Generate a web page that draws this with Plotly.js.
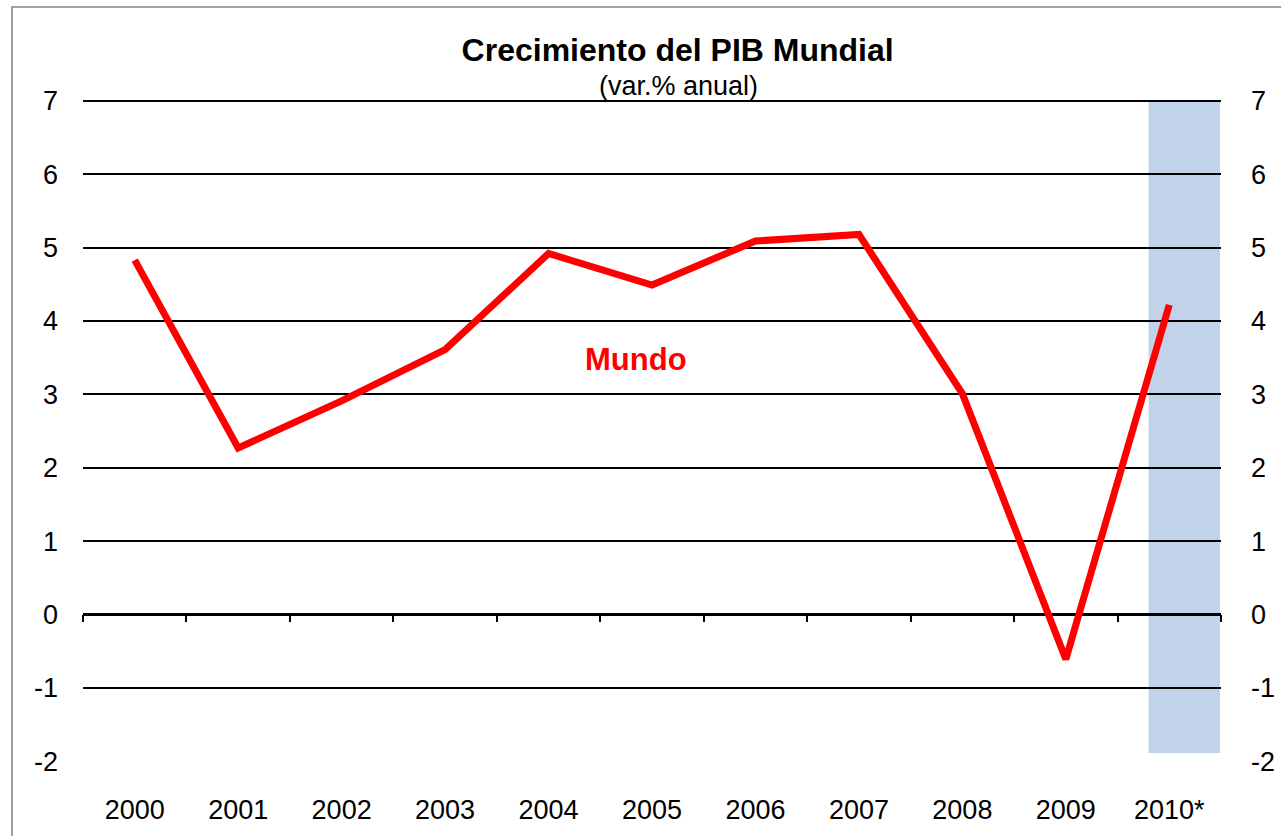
<!DOCTYPE html>
<html>
<head>
<meta charset="utf-8">
<script src="https://cdn.plot.ly/plotly-3.0.1.min.js"></script>
<style>
html,body{margin:0;padding:0;background:#fff;}
#wrap{position:relative;width:1281px;height:836px;overflow:hidden;}
#chart{position:absolute;left:0;top:0;width:1281px;height:836px;}
#border{position:absolute;left:11px;top:6px;width:1400px;height:1000px;border:2px solid #a0a0a0;pointer-events:none;z-index:10;}
</style>
</head>
<body>
<div id="wrap"><div id="chart"></div><div id="border"></div></div>
<script>
const years = ['2000','2001','2002','2003','2004','2005','2006','2007','2008','2009','2010*'];
const growth = [4.83, 2.27, 2.91, 3.61, 4.92, 4.49, 5.09, 5.18, 3.01, -0.61, 4.22];
const yTickVals = [-2, -1, 0, 1, 2, 3, 4, 5, 6, 7];
const yTickText = ['-2', '-1', '0', '1', '2', '3', '4', '5', '6', '7'];
const seriesLabel = 'Mundo';
const titleText = 'Crecimiento del PIB Mundial';
const subtitleText = '(var.% anual)';
const yRange = [-2.012, 7.04];
const forecastBand = {x0: 9.8, x1: 10.49, y0: -1.89, y1: 7};

const FONT = 'Liberation Sans, Arial, Helvetica, sans-serif';
const TICK = 27;

const traces = [
  {x: years, y: growth, type: 'scatter', mode: 'lines', xaxis: 'x', yaxis: 'y',
   line: {color: '#ff0000', width: 7}, hoverinfo: 'x+y', showlegend: false, name: seriesLabel},
  {x: years, y: growth, type: 'scatter', mode: 'lines', xaxis: 'x2', yaxis: 'y2',
   line: {color: 'rgba(0,0,0,0)', width: 0}, hoverinfo: 'skip', showlegend: false}
];

const zeroPos = (0 - yRange[0]) / (yRange[1] - yRange[0]);

const layout = {
  width: 1281, height: 836,
  margin: {l: 83, r: 60, t: 98, b: 74},
  paper_bgcolor: 'rgba(0,0,0,0)', plot_bgcolor: '#ffffff',
  font: {family: FONT, color: '#000', size: TICK},
  showlegend: false,
  title: {text: '<b>' + titleText + '</b>', font: {family: FONT, size: 32, color: '#000'},
          xref: 'container', yref: 'container', x: 0.529, y: 0.940, xanchor: 'center', yanchor: 'middle'},
  xaxis: {type: 'category', categoryarray: years, categoryorder: 'array', range: [-0.5, 10.5],
          anchor: 'free', position: zeroPos, ticks: 'outside', tickson: 'boundaries',
          ticklen: 7, tickwidth: 2, tickcolor: '#000', showticklabels: false,
          showgrid: false, zeroline: false, showline: false, fixedrange: true},
  xaxis2: {type: 'category', categoryarray: years, categoryorder: 'array', range: [-0.5, 10.5],
           overlaying: 'x', anchor: 'y', side: 'bottom', ticks: '', showticklabels: true,
           ticklabelstandoff: 29, tickfont: {family: FONT, size: TICK, color: '#000'},
           showgrid: false, zeroline: false, showline: false},
  yaxis: {range: yRange, tickmode: 'array', tickvals: yTickVals, ticktext: yTickText,
          showgrid: true, gridcolor: '#000', gridwidth: 2,
          zeroline: true, zerolinecolor: '#000', zerolinewidth: 3, ticks: '',
          ticklabelstandoff: 24, tickfont: {family: FONT, size: TICK, color: '#000'}, showline: false},
  yaxis2: {range: yRange, tickmode: 'array', tickvals: yTickVals, ticktext: yTickText,
           overlaying: 'y', side: 'right', anchor: 'x',
           showgrid: false, zeroline: false, ticks: '', ticklabelstandoff: 29,
           tickfont: {family: FONT, size: TICK, color: '#000'}, showline: false},
  shapes: [
    {type: 'rect', xref: 'x', yref: 'y', x0: forecastBand.x0, x1: forecastBand.x1,
     y0: forecastBand.y0, y1: forecastBand.y1, fillcolor: '#c2d3e9', line: {width: 0}, layer: 'below'}
  ],
  annotations: [
    {text: subtitleText, xref: 'paper', yref: 'paper', x: 0.523, y: 1.018,
     xanchor: 'center', yanchor: 'middle', showarrow: false,
     font: {family: FONT, size: 27, color: '#000'}},
    {text: '<b>' + seriesLabel + '</b>', xref: 'x', yref: 'y', x: 4.85, y: 3.47,
     xanchor: 'center', yanchor: 'middle', showarrow: false,
     font: {family: FONT, size: 31, color: '#ff0000'}}
  ]
};

Plotly.newPlot('chart', traces, layout, {displayModeBar: false, staticPlot: true});
</script>
</body>
</html>
